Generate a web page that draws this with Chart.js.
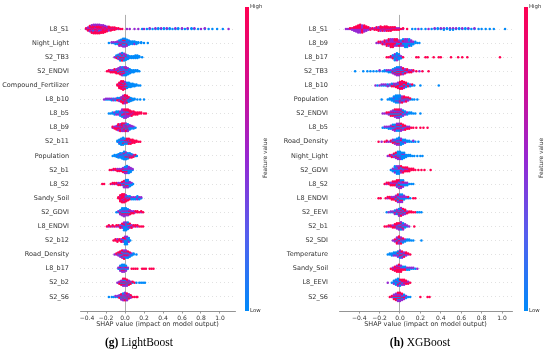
<!DOCTYPE html>
<html><head><meta charset="utf-8">
<script src="https://cdn.jsdelivr.net/npm/chart.js@4.4.1/dist/chart.umd.min.js"></script>
<style>
html,body{margin:0;padding:0;background:#fff;}
#wrap{position:relative;width:550px;height:354px;overflow:hidden;background:#fff;font-family:"DejaVu Sans",sans-serif;}
canvas{position:absolute;top:0;}
.cbar{position:absolute;top:7px;height:304px;width:3.8px;background:linear-gradient(to bottom,rgb(255,0,82) 0%,rgb(205,15,150) 28%,rgb(150,40,210) 50%,rgb(85,95,238) 75%,rgb(0,138,250) 100%);}
.cl{position:absolute;font-size:5.4px;color:#333;line-height:1;}
.fv{position:absolute;font-size:5.9px;color:#333;transform:translate(-50%,-50%) rotate(-90deg);white-space:nowrap;line-height:1;}
.cap{position:absolute;top:336px;font-family:"Liberation Serif","Times New Roman",serif;font-size:11.5px;color:#000;transform:translateX(-50%);white-space:nowrap;}
</style></head>
<body>
<div id="wrap">
<canvas id="c1" width="275" height="354" style="left:0"></canvas>
<canvas id="c2" width="275" height="354" style="left:275px"></canvas>
<div class="cbar" style="left:245px"></div>
<div class="cl" style="left:250px;top:4px">High</div>
<div class="cl" style="left:250px;top:308px">Low</div>
<div class="fv" style="left:266px;top:158px">Feature value</div>
<div class="cbar" style="left:524px"></div>
<div class="cl" style="left:529px;top:4px">High</div>
<div class="cl" style="left:529px;top:308px">Low</div>
<div class="fv" style="left:542px;top:158px">Feature value</div>
<div class="cap" style="left:139px"><b>(g)</b> LightBoost</div>
<div class="cap" style="left:420px"><b>(h)</b> XGBoost</div>
</div>
<script>
const lgbFeatures = ['L8_S1','Night_Light','S2_TB3','S2_ENDVI','Compound_Fertilizer','L8_b10','L8_b5','L8_b9','S2_b11','Population','S2_b1','L8_S2','Sandy_Soil','S2_GDVI','L8_ENDVI','S2_b12','Road_Density','L8_b17','S2_b2','S2_S6'];
const xgbFeatures = ['L8_S1','L8_b9','L8_b17','S2_TB3','L8_b10','Population','S2_ENDVI','L8_b5','Road_Density','Night_Light','S2_GDVI','L8_S2','L8_ENDVI','S2_EEVI','S2_b1','S2_SDI','Temperature','Sandy_Soil','L8_EEVI','S2_S6'];
const xTicks = [-0.4,-0.2,0.0,0.2,0.4,0.6,0.8,1.0];
const xTitle = 'SHAP value (impact on model output)';
// each entry: [SHAP value, count with low feature value, count mid, count high]
const lgbShap = [
 [[-0.41,0,1,1],[-0.39,0,2,3],[-0.37,0,3,5],[-0.35,0,4,7],[-0.33,1,4,8],[-0.31,0,5,8],[-0.29,0,4,9],[-0.27,1,4,8],[-0.25,0,4,7],[-0.23,0,3,8],[-0.21,0,3,6],[-0.19,0,2,5],[-0.17,0,2,4],[-0.15,0,1,4],[-0.13,0,1,3],[-0.11,0,1,3],[-0.09,0,0,2],[-0.07,0,1,1],[-0.05,0,0,1],[-0.03,0,0,1],[0.02,0,1,0],[0.05,0,1,0],[0.1,0,1,0],[0.14,0,1,0],[0.18,1,0,0],[0.2,0,1,0],[0.23,1,0,0],[0.26,1,1,0],[0.29,1,0,0],[0.32,1,1,0],[0.35,2,0,0],[0.38,1,1,0],[0.41,2,0,0],[0.44,1,1,0],[0.47,2,0,0],[0.5,1,0,0],[0.53,1,1,0],[0.56,2,0,0],[0.6,1,1,0],[0.63,1,0,0],[0.66,1,1,0],[0.7,2,0,0],[0.73,1,1,0],[0.77,1,0,0],[0.8,0,1,0],[0.84,1,1,0],[0.88,1,0,0],[0.92,1,0,0],[0.97,1,0,0],[1.03,1,0,0],[1.09,0,1,0]],
 [[-0.17,1,0,0],[-0.14,1,1,0],[-0.12,1,1,0],[-0.1,2,1,0],[-0.08,2,2,0],[-0.06,3,3,1],[-0.04,4,3,1],[-0.02,5,3,2],[0.0,5,3,2],[0.02,5,2,1],[0.04,5,1,0],[0.06,4,0,0],[0.08,4,0,0],[0.1,3,1,0],[0.12,3,0,0],[0.14,2,0,0],[0.17,2,0,0],[0.2,1,0,0],[0.24,1,0,0]],
 [[-0.11,0,1,0],[-0.09,2,1,1],[-0.07,3,2,1],[-0.05,4,3,2],[-0.03,4,3,3],[-0.01,4,3,2],[0.01,4,2,1],[0.03,4,1,0],[0.05,3,0,0],[0.07,3,0,0],[0.09,3,0,0],[0.11,4,0,0],[0.13,4,0,0],[0.15,2,0,0],[0.18,1,0,0]],
 [[-0.19,0,0,1],[-0.17,0,0,2],[-0.15,0,1,2],[-0.13,0,1,2],[-0.11,0,1,3],[-0.09,0,2,3],[-0.07,1,3,2],[-0.05,2,4,2],[-0.03,3,4,2],[-0.01,4,3,2],[0.01,5,3,1],[0.03,5,2,0],[0.05,4,1,0],[0.07,3,0,0],[0.09,3,0,0],[0.11,2,0,0],[0.13,2,0,0],[0.15,1,0,0]],
 [[-0.08,0,0,2],[-0.06,0,1,6],[-0.04,0,2,8],[-0.02,1,2,8],[0.0,2,2,5],[0.02,5,1,1],[0.04,6,0,0],[0.06,5,0,0],[0.08,4,0,0],[0.1,3,0,0],[0.12,2,0,0],[0.14,1,0,0],[0.16,1,0,0]],
 [[-0.22,0,1,0],[-0.2,1,1,0],[-0.18,1,1,0],[-0.16,1,1,0],[-0.14,2,1,0],[-0.12,1,2,0],[-0.1,2,1,0],[-0.08,2,1,1],[-0.06,2,2,1],[-0.04,1,3,3],[-0.02,1,3,7],[0.0,1,3,8],[0.02,2,2,6],[0.04,4,1,2],[0.06,4,0,1],[0.08,3,0,0],[0.1,2,0,0],[0.13,1,0,0],[0.16,1,0,0],[0.2,1,0,0]],
 [[-0.17,1,0,0],[-0.15,1,0,0],[-0.13,2,0,0],[-0.11,2,1,0],[-0.09,3,1,0],[-0.07,3,1,0],[-0.05,3,2,0],[-0.03,3,4,1],[-0.01,2,5,2],[0.01,1,5,3],[0.03,1,3,4],[0.05,0,2,4],[0.07,0,1,4],[0.09,0,1,3],[0.11,0,0,3],[0.13,0,0,3],[0.15,0,0,2],[0.17,0,0,2],[0.2,0,0,1],[0.22,0,0,1]],
 [[-0.13,0,1,1],[-0.11,0,1,2],[-0.09,0,2,3],[-0.07,0,3,5],[-0.05,1,3,5],[-0.03,1,4,5],[-0.01,2,4,4],[0.01,3,4,3],[0.03,3,4,2],[0.05,3,3,0],[0.07,2,2,0],[0.09,2,1,0],[0.11,1,0,0]],
 [[-0.08,2,0,0],[-0.06,4,1,0],[-0.04,6,1,0],[-0.02,6,1,1],[0.0,4,1,1],[0.02,2,1,3],[0.04,1,1,4],[0.06,0,1,4],[0.08,0,0,4],[0.1,0,0,3],[0.12,0,0,2],[0.14,0,0,1],[0.16,0,0,1]],
 [[-0.13,1,0,0],[-0.11,2,0,0],[-0.09,3,0,0],[-0.07,4,1,0],[-0.05,5,1,0],[-0.03,6,1,0],[-0.01,7,2,1],[0.01,6,2,1],[0.03,5,1,1],[0.05,3,1,2],[0.07,2,1,2],[0.09,1,1,1],[0.11,1,0,1],[0.125,1,0,0]],
 [[-0.16,0,0,1],[-0.14,0,0,1],[-0.12,0,1,1],[-0.1,0,0,2],[-0.08,0,1,2],[-0.06,0,1,2],[-0.04,0,1,2],[-0.02,1,2,2],[0.0,3,3,1],[0.02,4,3,1],[0.04,4,3,0],[0.06,3,2,0],[0.08,1,1,0]],
 [[-0.24,0,0,1],[-0.22,0,0,1],[-0.15,0,0,1],[-0.13,0,1,1],[-0.11,0,0,2],[-0.09,0,1,1],[-0.07,0,1,2],[-0.05,0,1,2],[-0.03,1,1,2],[-0.01,2,3,2],[0.01,4,3,1],[0.03,4,3,1],[0.05,3,2,0],[0.07,2,1,0],[0.085,1,0,0]],
 [[-0.07,0,0,2],[-0.05,0,1,6],[-0.03,0,1,8],[-0.01,0,2,7],[0.01,1,2,4],[0.03,2,1,2],[0.05,2,1,1],[0.07,2,1,0],[0.09,2,1,0],[0.11,2,1,0],[0.13,3,1,0],[0.15,2,1,0],[0.17,1,1,0]],
 [[-0.09,1,0,0],[-0.07,1,1,0],[-0.05,2,2,1],[-0.03,4,3,1],[-0.01,4,4,1],[0.01,4,3,1],[0.03,3,3,1],[0.05,1,2,2],[0.07,0,1,2],[0.09,0,1,2],[0.11,0,1,1],[0.13,0,0,2],[0.15,0,0,1],[0.17,0,1,1],[0.19,0,0,1]],
 [[-0.19,0,0,1],[-0.17,0,1,1],[-0.15,0,0,1],[-0.13,0,1,1],[-0.11,0,0,1],[-0.09,0,1,1],[-0.07,0,1,1],[-0.05,0,1,2],[-0.03,1,1,2],[-0.01,4,2,1],[0.01,5,2,0],[0.03,4,1,1],[0.05,1,1,2],[0.07,0,1,2],[0.09,0,1,1],[0.11,0,0,2],[0.13,0,1,1],[0.15,0,0,1],[0.17,0,0,1],[0.19,0,0,1]],
 [[-0.12,0,0,1],[-0.1,0,0,2],[-0.08,0,1,2],[-0.06,0,0,2],[-0.04,0,1,2],[-0.02,1,1,2],[0.0,4,2,1],[0.02,5,2,0],[0.04,3,1,0],[0.055,1,0,0]],
 [[-0.11,0,1,0],[-0.09,0,1,1],[-0.07,1,1,2],[-0.05,1,2,3],[-0.03,2,3,3],[-0.01,3,3,3],[0.01,3,3,2],[0.03,3,2,2],[0.05,3,1,1],[0.07,2,1,0],[0.09,2,0,0],[0.12,1,0,0]],
 [[-0.07,1,1,0],[-0.05,3,2,1],[-0.03,4,3,1],[-0.01,4,3,1],[0.01,3,2,1],[0.03,1,1,0],[0.07,0,0,1],[0.09,0,0,1],[0.11,0,0,1],[0.13,0,0,1],[0.18,0,0,1],[0.2,0,0,1],[0.22,0,0,1],[0.26,0,0,1],[0.28,0,0,1],[0.3,0,0,1]],
 [[-0.08,0,1,0],[-0.06,1,1,1],[-0.04,1,2,2],[-0.02,2,3,3],[0.0,2,3,3],[0.02,2,3,2],[0.04,1,2,2],[0.06,1,1,1],[0.08,1,0,1],[0.1,0,0,1],[0.12,1,0,0],[0.15,1,0,0],[0.17,1,0,0],[0.19,1,0,0],[0.21,1,0,0]],
 [[-0.17,1,0,0],[-0.14,1,0,0],[-0.12,1,0,0],[-0.1,1,1,0],[-0.08,1,1,0],[-0.06,1,2,1],[-0.04,2,3,2],[-0.02,3,4,2],[0.0,3,4,3],[0.02,2,4,3],[0.04,1,3,2],[0.06,1,1,2],[0.08,0,0,1],[0.1,0,0,1],[0.12,0,0,1],[0.13,0,0,1]]
];
const xgbShap = [
 [[-0.53,0,1,0],[-0.51,0,1,0],[-0.49,0,1,1],[-0.47,0,2,1],[-0.45,0,3,2],[-0.43,0,4,3],[-0.41,0,5,4],[-0.39,0,5,5],[-0.37,0,4,5],[-0.35,0,4,4],[-0.33,0,3,3],[-0.31,0,2,2],[-0.29,0,1,2],[-0.27,0,1,1],[-0.25,0,1,2],[-0.23,0,1,3],[-0.21,0,2,3],[-0.19,0,2,4],[-0.17,0,1,4],[-0.15,0,2,4],[-0.13,0,1,5],[-0.11,0,1,4],[-0.09,0,1,4],[-0.07,0,1,3],[-0.05,0,1,3],[-0.03,0,1,2],[-0.01,0,1,2],[0.01,0,0,1],[0.03,0,1,1],[0.07,0,0,1],[0.12,1,0,0],[0.15,1,0,0],[0.18,0,1,0],[0.21,1,0,0],[0.25,1,0,0],[0.28,0,1,0],[0.31,1,0,0],[0.34,1,1,0],[0.37,2,0,0],[0.4,1,1,0],[0.43,2,1,0],[0.46,2,0,0],[0.49,2,1,0],[0.52,2,1,0],[0.55,1,1,0],[0.58,2,0,0],[0.61,1,1,0],[0.64,2,0,0],[0.67,1,1,0],[0.7,1,0,0],[0.73,1,1,0],[0.77,1,0,0],[0.8,1,0,0],[0.84,1,0,0],[0.88,1,0,0],[0.92,1,0,0],[1.03,1,0,0]],
 [[-0.23,0,1,0],[-0.21,0,1,1],[-0.19,0,1,1],[-0.17,0,1,2],[-0.15,0,2,2],[-0.13,0,2,3],[-0.11,0,2,4],[-0.09,0,3,4],[-0.07,0,3,4],[-0.05,0,2,4],[-0.03,1,2,3],[-0.01,1,2,2],[0.01,2,2,1],[0.03,3,2,1],[0.05,4,3,0],[0.07,4,3,0],[0.09,4,2,0],[0.11,3,2,0],[0.13,2,1,0],[0.15,2,0,0],[0.17,1,0,0],[0.19,1,0,0]],
 [[-0.13,0,0,1],[-0.11,0,0,1],[-0.09,0,1,1],[-0.07,2,1,1],[-0.05,5,2,0],[-0.03,6,2,0],[-0.01,5,1,0],[0.01,2,1,0],[0.03,0,0,1],[0.16,0,0,1],[0.18,0,0,1],[0.25,0,0,1],[0.27,0,0,1],[0.33,0,0,1],[0.38,0,0,1],[0.4,0,0,1],[0.5,0,0,1],[0.57,0,0,1],[0.61,0,0,1],[0.66,0,0,1],[0.98,0,0,1]],
 [[-0.44,1,0,0],[-0.36,1,0,0],[-0.32,1,0,0],[-0.29,1,0,0],[-0.26,1,0,0],[-0.23,1,0,0],[-0.2,1,1,0],[-0.17,1,0,0],[-0.15,2,0,0],[-0.13,1,1,0],[-0.11,2,1,0],[-0.09,2,1,0],[-0.07,2,2,1],[-0.05,3,3,1],[-0.03,3,4,2],[-0.01,3,4,2],[0.01,2,4,2],[0.03,2,3,2],[0.05,1,2,2],[0.07,0,2,2],[0.09,0,1,2],[0.11,0,1,2],[0.13,0,1,1],[0.16,0,0,1],[0.19,0,1,0],[0.22,0,0,1],[0.28,0,0,1]],
 [[-0.24,0,1,0],[-0.22,1,0,0],[-0.2,0,1,0],[-0.18,1,1,0],[-0.16,1,1,0],[-0.14,1,1,0],[-0.12,1,2,0],[-0.1,1,1,0],[-0.08,2,1,1],[-0.06,1,2,1],[-0.04,1,2,2],[-0.02,1,2,4],[0.0,1,2,6],[0.02,1,2,7],[0.04,1,2,5],[0.06,2,1,3],[0.08,2,1,1],[0.1,2,1,0],[0.12,1,0,1],[0.14,1,0,0],[0.2,1,0,0],[0.38,1,0,0]],
 [[-0.18,1,0,0],[-0.12,1,0,0],[-0.1,2,0,0],[-0.08,3,0,0],[-0.06,5,1,0],[-0.04,7,1,0],[-0.02,7,1,0],[0.0,5,2,1],[0.02,2,2,3],[0.04,1,2,3],[0.06,1,1,3],[0.08,1,1,2],[0.1,1,0,1],[0.12,1,0,0],[0.14,1,0,0],[0.17,1,0,0]],
 [[-0.17,0,1,0],[-0.15,0,1,0],[-0.13,0,1,1],[-0.11,0,2,1],[-0.09,1,2,2],[-0.07,1,3,2],[-0.05,2,3,3],[-0.03,2,4,3],[-0.01,2,4,3],[0.01,3,3,2],[0.03,3,2,1],[0.05,3,1,0],[0.07,2,1,0],[0.09,2,0,0],[0.11,2,0,0],[0.13,1,0,0],[0.15,1,0,0],[0.2,1,0,0]],
 [[-0.17,1,0,0],[-0.15,1,1,0],[-0.13,1,1,0],[-0.11,2,1,0],[-0.09,2,2,0],[-0.07,3,2,1],[-0.05,3,3,1],[-0.03,3,3,2],[-0.01,3,3,2],[0.01,2,3,3],[0.03,1,2,3],[0.05,1,1,3],[0.07,0,1,2],[0.09,0,1,2],[0.11,0,0,1],[0.13,0,0,1],[0.16,0,0,1],[0.2,0,0,1],[0.23,0,0,1],[0.27,0,0,1]],
 [[-0.21,0,0,1],[-0.18,0,1,0],[-0.15,0,0,1],[-0.13,0,1,1],[-0.11,0,1,0],[-0.09,0,1,1],[-0.07,1,2,1],[-0.05,2,2,1],[-0.03,3,3,1],[-0.01,4,3,1],[0.01,4,2,1],[0.03,4,1,0],[0.05,3,1,0],[0.07,2,0,0],[0.09,2,0,0],[0.11,1,0,0],[0.13,1,1,0],[0.15,1,0,0],[0.18,1,0,0]],
 [[-0.12,0,1,0],[-0.1,0,1,1],[-0.08,0,1,2],[-0.06,1,1,2],[-0.04,2,2,2],[-0.02,5,2,1],[0.0,6,2,0],[0.02,6,1,0],[0.04,5,1,0],[0.06,3,0,0],[0.08,2,0,0],[0.1,2,0,0],[0.12,1,0,0],[0.14,1,0,0],[0.17,1,0,0],[0.2,1,0,0],[0.22,1,0,0]],
 [[-0.09,1,0,0],[-0.07,2,1,0],[-0.05,4,2,0],[-0.03,5,2,0],[-0.01,4,2,1],[0.01,2,2,2],[0.03,1,1,3],[0.05,0,1,3],[0.07,0,1,3],[0.09,0,0,3],[0.11,0,0,2],[0.13,0,0,2],[0.15,0,0,1],[0.18,0,0,1],[0.21,0,0,1],[0.24,0,0,1],[0.3,0,0,1]],
 [[-0.15,0,0,1],[-0.13,0,1,1],[-0.11,0,0,2],[-0.09,0,1,2],[-0.07,0,1,3],[-0.05,0,1,3],[-0.03,1,2,3],[-0.01,2,3,2],[0.01,3,3,1],[0.03,3,2,1],[0.05,2,1,0],[0.07,2,1,0],[0.09,1,0,0],[0.11,1,0,0],[0.13,1,0,0]],
 [[-0.21,0,0,1],[-0.19,0,0,1],[-0.14,0,0,1],[-0.12,0,1,1],[-0.1,0,0,2],[-0.08,0,1,2],[-0.06,0,1,2],[-0.04,1,2,2],[-0.02,2,3,2],[0.0,3,3,1],[0.02,3,3,1],[0.04,2,2,0],[0.06,1,1,0],[0.08,1,0,1],[0.1,1,0,0],[0.13,0,0,1],[0.15,0,0,1]],
 [[-0.13,1,0,0],[-0.11,0,1,0],[-0.09,1,1,0],[-0.07,1,1,0],[-0.05,2,2,1],[-0.03,2,3,1],[-0.01,3,4,2],[0.01,3,4,3],[0.03,2,3,3],[0.05,1,2,3],[0.07,0,1,2],[0.09,0,0,2],[0.11,0,0,2],[0.13,0,0,1],[0.15,0,0,1],[0.17,1,0,0],[0.19,1,0,0],[0.21,1,0,0]],
 [[-0.15,0,0,1],[-0.13,0,0,1],[-0.11,0,1,1],[-0.09,0,0,2],[-0.07,0,1,2],[-0.05,0,1,3],[-0.03,1,2,3],[-0.01,2,3,2],[0.01,3,3,2],[0.03,3,3,1],[0.05,2,2,0],[0.07,1,1,0],[0.09,0,1,0],[0.14,0,0,1]],
 [[-0.07,0,1,0],[-0.05,0,2,1],[-0.03,1,3,3],[-0.01,1,3,4],[0.01,2,2,3],[0.03,3,1,1],[0.05,2,1,0],[0.07,2,0,0],[0.09,2,0,0],[0.11,1,0,0],[0.13,1,0,0],[0.21,1,0,0]],
 [[-0.12,1,0,0],[-0.1,2,0,0],[-0.08,3,0,0],[-0.06,3,1,0],[-0.04,3,1,0],[-0.02,3,2,1],[0.0,3,3,2],[0.02,2,3,2],[0.04,1,2,2],[0.06,0,2,2],[0.08,0,1,1],[0.1,0,0,1]],
 [[-0.09,0,0,1],[-0.07,0,1,2],[-0.05,0,1,4],[-0.03,0,2,5],[-0.01,0,2,6],[0.01,1,2,4],[0.03,2,1,1],[0.05,2,1,1],[0.07,2,1,0],[0.09,2,1,0],[0.11,1,1,0],[0.13,1,1,0],[0.15,1,0,0],[0.17,0,1,0]],
 [[-0.12,0,1,0],[-0.08,1,0,0],[-0.06,3,1,0],[-0.04,5,1,0],[-0.02,5,2,1],[0.0,3,2,2],[0.02,1,2,3],[0.04,0,2,4],[0.06,0,1,3],[0.08,0,1,2],[0.1,0,0,1]],
 [[-0.1,0,0,1],[-0.08,0,1,1],[-0.06,1,2,2],[-0.04,1,3,3],[-0.02,2,4,3],[0.0,2,4,3],[0.02,2,3,2],[0.04,2,2,1],[0.06,2,1,0],[0.08,1,0,0],[0.1,1,0,0],[0.2,0,0,1],[0.27,0,0,1],[0.29,0,0,1]]
];

const COLORS = ['rgb(0,138,250)','rgb(150,40,210)','rgb(255,0,82)'];
const FONT = '"DejaVu Sans", sans-serif';

function columnColors(b, p, r) {
  const items = [];
  [b, p, r].forEach((k, ci) => { for (let j = 0; j < k; j++) items.push([(j + 0.5) / k + ci * 1e-3, ci]); });
  items.sort((a, c) => a[0] - c[0]);
  return items.map(t => COLORS[t[1]]);
}

function buildPoints(rows) {
  const n = rows.length, pts = [], cols = [];
  rows.forEach((row, i) => {
    const base = n - 1 - i;
    let maxL = 0;
    row.forEach(e => { maxL = Math.max(maxL, Math.ceil((e[1] + e[2] + e[3] - 1) / 2)); });
    const sc = 0.9 * 0.4 / (maxL + 1);
    row.forEach(e => {
      const cc = columnColors(e[1], e[2], e[3]);
      cc.forEach((c, k) => {
        const off = Math.ceil(k / 2) * ((k % 2) * 2 - 1) * sc;
        pts.push({x: e[0], y: base + off});
        cols.push(c);
      });
    });
  });
  return {pts, cols};
}

function fmt(v) { const s = v.toFixed(1); return v < 0 ? '\u2212' + s.slice(1) : s; }

function makeChart(id, features, rows, xmin, xmax, yw, padR) {
  const n = features.length;
  const {pts, cols} = buildPoints(rows);
  new Chart(document.getElementById(id), {
    type: 'scatter',
    data: {datasets: [{data: pts, backgroundColor: cols, borderWidth: 0, pointRadius: 1.25, pointHoverRadius: 1.25}]},
    options: {
      responsive: false, animation: false, events: [],
      layout: {padding: {top: 6.5, right: padR, left: 0, bottom: 0}},
      plugins: {legend: {display: false}, tooltip: {enabled: false}},
      scales: {
        x: {
          type: 'linear', min: xmin, max: xmax, position: 'bottom',
          afterBuildTicks: s => { s.ticks = xTicks.map(v => ({value: v})); },
          afterFit: s => { s.height = 43; },
          ticks: {callback: v => fmt(v), font: {family: FONT, size: 6}, color: '#333', padding: 1, maxRotation: 0, autoSkip: false},
          grid: {drawOnChartArea: true, color: c => (c.tick && Math.abs(c.tick.value) < 1e-9) ? '#999999' : 'rgba(0,0,0,0)', lineWidth: 0.8, drawTicks: true, tickLength: 2.5, tickColor: '#555', tickWidth: 0.6},
          border: {display: true, color: '#666', width: 0.7},
          title: {display: true, text: xTitle, font: {family: FONT, size: 6.5}, color: '#333', padding: {top: 0, bottom: 26}}
        },
        y: {
          type: 'linear', min: -1, max: n,
          afterBuildTicks: s => { s.ticks = features.map((_, i) => ({value: i})); },
          afterFit: s => { s.width = yw; },
          ticks: {callback: v => features[n - 1 - v], font: {family: FONT, size: 6.5}, color: '#333', padding: 11, autoSkip: false},
          grid: {color: '#cccccc', lineWidth: 0.6, drawTicks: false},
          border: {display: false, dash: [1, 3]}
        }
      }
    }
  });
}

makeChart('c1', lgbFeatures, lgbShap, -0.474, 1.158, 80, 40);
makeChart('c2', xgbFeatures, xgbShap, -0.598, 1.098, 64, 38);
</script>
</body></html>
